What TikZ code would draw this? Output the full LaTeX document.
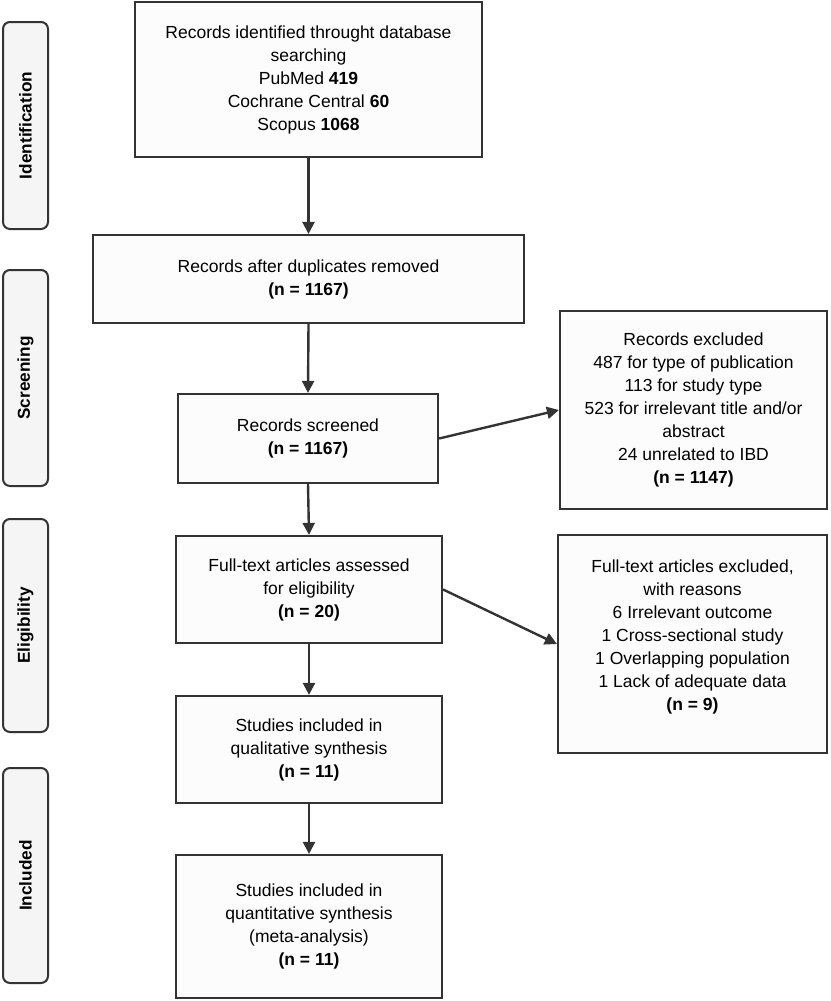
\documentclass[tikz,border=0pt]{standalone}
\usepackage{fontspec}
\setmainfont{Liberation Sans}
\usetikzlibrary{arrows.meta}
\definecolor{edge}{HTML}{333333}
\definecolor{boxfill}{HTML}{FCFCFC}
\definecolor{sidefill}{HTML}{F5F5F5}
\begin{document}
\begin{tikzpicture}[x=1pt,y=-1pt,
  box/.style={draw=edge, line width=2.2pt, fill=boxfill, align=center, inner sep=0pt,
    font=\fontsize{17.5}{23}\selectfont, text=black},
  side/.style={draw=edge, line width=2pt, fill=sidefill, rounded corners=7pt, inner sep=0pt,
    font=\fontsize{17.2}{20}\selectfont\bfseries, rotate=90},
  arr/.style={draw=edge, line width=2.4pt, -{Triangle[length=12pt,width=12pt]}}]
\useasboundingbox (0,0) rectangle (830,1001);

% side phase labels
\node[side, minimum width=207pt, minimum height=45pt] (sid) at (25.5,125.5) {Identification};
\node[side, minimum width=216pt, minimum height=45pt] (sscr) at (25.5,378) {Screening};
\node[side, minimum width=213pt, minimum height=45pt] (selg) at (25.5,625.5) {Eligibility};
\node[side, minimum width=215pt, minimum height=45pt] (sinc) at (25.5,875.5) {Included};

% main boxes
\node[box, minimum width=347pt, minimum height=155pt] (b1) at (308.5,79.5)
  {Records identified throught database\\ searching\\ PubMed \textbf{419}\\ Cochrane Central \textbf{60}\\ Scopus \textbf{1068}};
\node[box, minimum width=431pt, minimum height=88pt] (b2) at (308.5,279)
  {Records after duplicates removed\\ \textbf{(n = 1167)}};
\node[box, minimum width=260pt, minimum height=89pt] (b3) at (308,438.5)
  {Records screened\\ \textbf{(n = 1167)}};
\node[box, minimum width=266pt, minimum height=107pt] (b4) at (309,589.5)
  {Full-text articles assessed\\ for eligibility\\ \textbf{(n = 20)}};
\node[box, minimum width=266pt, minimum height=107pt] (b5) at (309,749.5)
  {Studies included in\\ qualitative synthesis\\ \textbf{(n = 11)}};
\node[box, minimum width=266pt, minimum height=143pt] (b6) at (309,926.5)
  {Studies included in\\ quantitative synthesis\\ (meta-analysis)\\ \textbf{(n = 11)}};

\node[box, minimum width=267pt, minimum height=198pt] (ra) at (693.5,410)
  {Records excluded\\ 487 for type of publication\\ 113 for study type\\ 523 for irrelevant title and/or\\ abstract\\ 24 unrelated to IBD\\ \textbf{(n = 1147)}};
\node[box, minimum width=269pt, minimum height=218pt] (rb) at (692.5,644)
  {Full-text articles excluded,\\ with reasons\\ 6 Irrelevant outcome\\ 1 Cross-sectional study\\ 1 Overlapping population\\ 1 Lack of adequate data\\ \textbf{(n = 9)}\\[-5pt]};

% connectors
\draw[arr] (b1.south) -- (b2.north);
\draw[arr] (b2.south) -- (b3.north);
\draw[arr] (b3.south) -- (b4.north);
\draw[arr] (b4.south) -- (b5.north);
\draw[arr] (b5.south) -- (b6.north);
\draw[arr] (b3.east) -- (ra.west);
\draw[arr] (b4.east) -- (rb.west);
\end{tikzpicture}
\end{document}
